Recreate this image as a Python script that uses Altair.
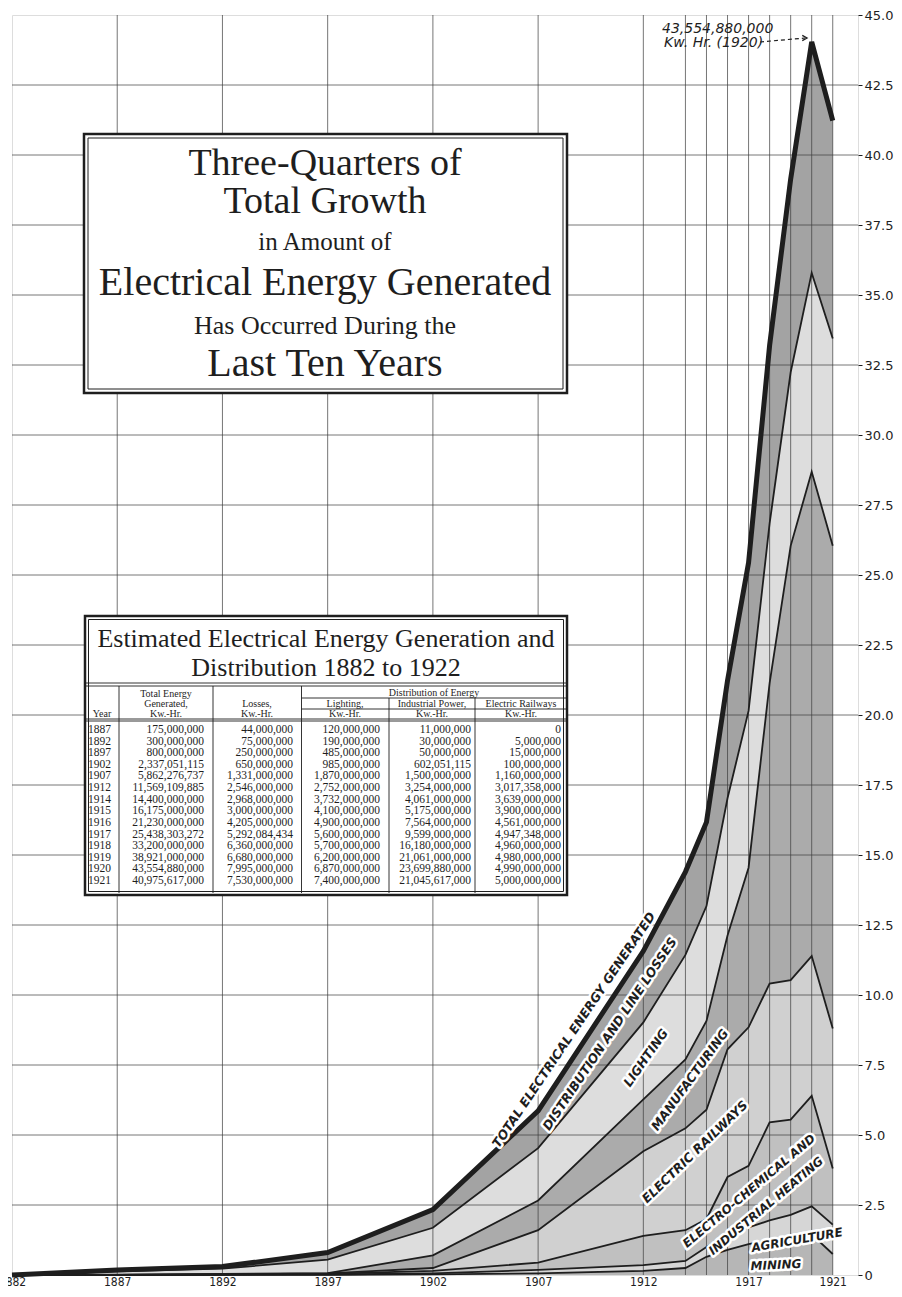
import altair as alt
import pandas as pd

years = [1882, 1887, 1892, 1897, 1902, 1907, 1912, 1914, 1915, 1916, 1917, 1918, 1919, 1920, 1921]
mining = [0, 0.002, 0.004, 0.008, 0.02, 0.06, 0.15, 0.25, 0.65, 0.90, 1.10, 1.25, 1.30, 1.45, 0.75]
agriculture = [0, 0.002, 0.005, 0.010, 0.04, 0.12, 0.20, 0.25, 0.35, 0.55, 0.60, 0.70, 0.85, 1.00, 1.05]
electrochem = [0, 0.004, 0.011, 0.022, 0.09, 0.26, 1.05, 1.10, 1.00, 2.05, 2.20, 3.50, 3.40, 3.95, 2.00]
railways = [0, 0, 0.005, 0.015, 0.100, 1.160, 3.017, 3.639, 3.900, 4.561, 4.947, 4.960, 4.980, 4.990, 5.000]
manufacturing = [0, 0.003, 0.010, 0.010, 0.452, 1.060, 1.854, 2.461, 3.175, 4.064, 5.699, 10.730, 15.511, 17.300, 17.246]
lighting = [0, 0.120, 0.190, 0.485, 0.985, 1.870, 2.752, 3.732, 4.100, 4.900, 5.600, 5.700, 6.200, 7.100, 7.400]
losses = [0, 0.044, 0.075, 0.250, 0.650, 1.331, 2.546, 2.968, 3.000, 4.205, 5.292, 6.360, 6.900, 8.250, 7.780]

categories = ["Mining", "Agriculture", "Electro-chemical and industrial heating",
              "Electric railways", "Manufacturing", "Lighting", "Distribution and line losses"]
gray_fills = ["#b6b6b6", "#d6d6d6", "#c0c0c0", "#d0d0d0", "#ababab", "#dddddd", "#a3a3a3"]

x_label_years = [1882, 1887, 1892, 1897, 1902, 1907, 1912, 1917, 1921]
y_ticks = [0, 2.5, 5, 7.5, 10, 12.5, 15, 17.5, 20, 22.5, 25, 27.5, 30, 32.5, 35, 37.5, 40, 42.5, 45]

# table values (kWh)
table_years = ["1887", "1892", "1897", "1902", "1907", "1912", "1914", "1915", "1916", "1917",
               "1918", "1919", "1920", "1921"]
table_total = [175000000, 300000000, 800000000, 2337051115, 5862276737, 11569109885, 14400000000,
               16175000000, 21230000000, 25438303272, 33200000000, 38921000000, 43554880000, 40975617000]
table_losses = [44000000, 75000000, 250000000, 650000000, 1331000000, 2546000000, 2968000000,
                3000000000, 4205000000, 5292084434, 6360000000, 6680000000, 7995000000, 7530000000]
table_lighting = [120000000, 190000000, 485000000, 985000000, 1870000000, 2752000000, 3732000000,
                  4100000000, 4900000000, 5600000000, 5700000000, 6200000000, 6870000000, 7400000000]
table_industrial = [11000000, 30000000, 50000000, 602051115, 1500000000, 3254000000, 4061000000,
                    5175000000, 7564000000, 9599000000, 16180000000, 21061000000, 23699880000, 21045617000]
table_railways = [0, 5000000, 15000000, 100000000, 1160000000, 3017358000, 3639000000, 3900000000,
                  4561000000, 4947348000, 4960000000, 4980000000, 4990000000, 5000000000]

# ---------------- layout ----------------
W, H = 846, 1260
OX, OY = 12, 15          # page position of the plot origin
SERIF = "Liberation Serif"
SANS = "DejaVu Sans"
NARROW = "Liberation Sans Narrow, DejaVu Sans Condensed, Roboto, DejaVu Sans"
INK = "#1e1e1e"

def px(v):
    return v - OX

def py(v):
    return v - OY

xs = alt.Scale(domain=[1882, 1922.2], nice=False, zero=False)
ys = alt.Scale(domain=[0, 45], nice=False, zero=True)
x_axis = alt.Axis(values=x_label_years, format="d", grid=False, ticks=False, domain=False,
                  labelFont=NARROW, labelFontSize=12, labelColor=INK,
                  labelPadding=1, labelFlush=False, labelOverlap=False, title=None)
y_axis = alt.Axis(orient="right", values=y_ticks, grid=False, domain=False, tickSize=4,
                  tickColor=INK, labelFont=SANS, labelFontSize=13, labelColor=INK, labelPadding=2,
                  labelExpr="datum.value == 0 ? '0' : format(datum.value, '.1f')", title=None)
NX = alt.X("x:Q", scale=None)
NY = alt.Y("y:Q", scale=None)

rows = []
for k, (c, s) in enumerate(zip(categories, [mining, agriculture, electrochem, railways,
                                            manufacturing, lighting, losses])):
    for yr, v in zip(years, s):
        rows.append({"year": yr, "category": c, "order": k, "value": v})
df = pd.DataFrame(rows)

base = alt.Chart(df).transform_stack(
    stack="value", groupby=["year"], as_=["y0", "y1"],
    sort=[alt.SortField("order", order="ascending")])

areas = base.mark_area(interpolate="linear").encode(
    x=alt.X("year:Q", scale=xs, axis=x_axis),
    y=alt.Y("y0:Q", scale=ys, stack=None, axis=y_axis),
    y2="y1:Q",
    color=alt.Color("category:N", scale=alt.Scale(domain=categories, range=gray_fills), legend=None),
)

hgrid = alt.Chart(pd.DataFrame({"v": y_ticks[1:-1]})).mark_rule(
    color="#3c3c3c", strokeWidth=1, opacity=0.7).encode(y=alt.Y("v:Q", scale=ys, axis=y_axis))
vgrid = alt.Chart(pd.DataFrame({"yr": years[1:]})).mark_rule(
    color="#3c3c3c", strokeWidth=1, opacity=0.7).encode(x=alt.X("yr:Q", scale=xs, axis=x_axis))

lines = base.mark_line(color=INK, interpolate="linear", strokeJoin="miter").encode(
    x=alt.X("year:Q", scale=xs, axis=x_axis),
    y=alt.Y("y1:Q", scale=ys, axis=y_axis),
    detail="category:N",
    strokeWidth=alt.condition(alt.datum.category == "Distribution and line losses",
                              alt.value(5), alt.value(1.8)),
)

# ---------------- boxes ----------------
def rect_layer(boxes, sw, fill=True):
    d = pd.DataFrame([{"x": px(a), "x2": px(b), "y": py(c), "y2": py(e)} for a, b, c, e in boxes])
    m = alt.Chart(d).mark_rect(fill="white", fillOpacity=1 if fill else 0, stroke=INK, strokeWidth=sw)
    return m.encode(x=NX, x2="x2:Q", y=NY, y2="y2:Q")

outer_boxes = rect_layer([(84, 567, 134, 393), (85, 567, 616, 895)], 2.5, True)
inner_boxes = rect_layer([(88, 563, 138, 389), (88.5, 563.5, 619.5, 891.5)], 1, False)

def rules_layer(segs, sw):
    d = pd.DataFrame([{"x": px(a), "x2": px(b), "y": py(c), "y2": py(e)} for a, b, c, e in segs])
    return alt.Chart(d).mark_rule(color=INK, strokeWidth=sw).encode(x=NX, x2="x2:Q", y=NY, y2="y2:Q")

table_rules = rules_layer([
    (85, 567, 683, 683), (85, 567, 686, 686),
    (119, 119, 686, 893), (213, 213, 686, 893), (301.5, 301.5, 686, 893),
    (389, 389, 698, 893), (475, 475, 698, 893),
    (301.5, 567, 698, 698), (301.5, 567, 709, 709),
    (85, 567, 719, 719), (85, 567, 721, 721),
], 0.9)

# ---------------- texts ----------------
def text_layer(items, font, align="center", style="normal", weight="normal", color=INK,
               baseline="alphabetic", halo=False):
    d = pd.DataFrame([{"text": t, "x": px(a), "y": py(b), "size": s, "angle": g}
                      for t, a, b, s, g in items])
    kw = dict(font=font, align=align, baseline=baseline, fontStyle=style, fontWeight=weight)
    if halo:
        kw.update(stroke="white", strokeWidth=5, fill="white", strokeJoin="round")
    else:
        kw.update(color=color)
    return alt.Chart(d).mark_text(**kw).encode(
        x=NX, y=NY, text="text:N",
        size=alt.Size("size:Q", scale=None, legend=None),
        angle=alt.Angle("angle:Q", scale=None, legend=None))

title_text = text_layer([
    ("Three-Quarters of", 325, 175, 38, 0),
    ("Total Growth", 325, 213, 38, 0),
    ("in Amount of", 325, 250, 25, 0),
    ("Electrical Energy Generated", 325, 295, 40, 0),
    ("Has Occurred During the", 325, 334, 26, 0),
    ("Last Ten Years", 325, 376, 40, 0),
], SERIF)

table_title = text_layer([
    ("Estimated Electrical Energy Generation and", 326, 647, 26, 0),
    ("Distribution 1882 to 1922", 326, 676, 26, 0),
], SERIF)

HS = 10
table_head = text_layer([
    ("Total Energy", 166, 697, HS, 0), ("Generated,", 166, 707, HS, 0), ("Kw.-Hr.", 166, 716.5, HS, 0),
    ("Losses,", 257, 707, HS, 0), ("Kw.-Hr.", 257, 716.5, HS, 0),
    ("Year", 102, 716.5, HS, 0),
    ("Distribution of Energy", 434, 696, HS, 0),
    ("Lighting,", 345, 707, HS, 0), ("Industrial Power,", 432, 707, HS, 0),
    ("Electric Railways", 521, 707, HS, 0),
    ("Kw.-Hr.", 345, 716.5, HS, 0), ("Kw.-Hr.", 432, 716.5, HS, 0), ("Kw.-Hr.", 521, 716.5, HS, 0),
], SERIF)

RS = 11.5
row_y = [733 + i * 11.62 for i in range(len(table_years))]
year_col = text_layer([(t, 88, yy, RS, 0) for t, yy in zip(table_years, row_y)], SERIF, align="left")
num_items = []
for col, xr in zip([table_total, table_losses, table_lighting, table_industrial, table_railways],
                   [204, 293, 380, 471, 561]):
    for v, yy in zip(col, row_y):
        num_items.append((f"{v:,}", xr, yy, RS, 0))
num_cols = text_layer(num_items, SERIF, align="right")

region_items = [
    ("TOTAL ELECTRICAL ENERGY GENERATED", 574, 1030, 12.5, 304),
    ("DISTRIBUTION AND LINE LOSSES", 610, 1034, 12.5, 304),
    ("LIGHTING", 646, 1058, 12.5, 305),
    ("MANUFACTURING", 690, 1080, 12.5, 306),
    ("ELECTRIC RAILWAYS", 695, 1152, 12.5, 316),
    ("ELECTRO-CHEMICAL AND", 749, 1191, 12, 320),
    ("INDUSTRIAL HEATING", 766, 1206, 12, 320),
    ("AGRICULTURE", 797, 1240, 12, 350),
    ("MINING", 776, 1265, 12, 357),
]
region_halo = text_layer(region_items, SANS, style="italic", weight="bold", baseline="middle", halo=True)
region_text = text_layer(region_items, SANS, style="italic", weight="bold", baseline="middle")

peak_text = text_layer([
    ("43,554,880,000", 662, 33, 14, 0),
    ("Kw. Hr. (1920)", 664, 47, 14, 0),
], SANS, align="left", style="italic")

arrow = alt.Chart(pd.DataFrame([{"x": px(760), "x2": px(805), "y": py(42), "y2": py(38)}])).mark_rule(
    color=INK, strokeWidth=1.2, strokeDash=[4, 3]).encode(x=NX, x2="x2:Q", y=NY, y2="y2:Q")
arrow_head = alt.Chart(pd.DataFrame([{"x": px(807), "y": py(38)}])).mark_point(
    shape="M-1,-0.55L0,0L-1,0.55", size=90, filled=False, color=INK, strokeWidth=1.3, opacity=1
).encode(x=NX, y=NY)

chart = alt.layer(
    areas, hgrid, vgrid, lines,
    outer_boxes, inner_boxes, table_rules,
    title_text, table_title, table_head, year_col, num_cols,
    region_halo, region_text, peak_text, arrow, arrow_head,
).properties(
    width=W, height=H,
    autosize=alt.AutoSizeParams(type="none"),
    padding={"left": 4, "top": 7, "right": 36, "bottom": 14},
).configure_view(stroke=INK, strokeWidth=2).configure(background="white")

chart.save("out.html", embed_options={"renderer": "svg", "actions": False})
